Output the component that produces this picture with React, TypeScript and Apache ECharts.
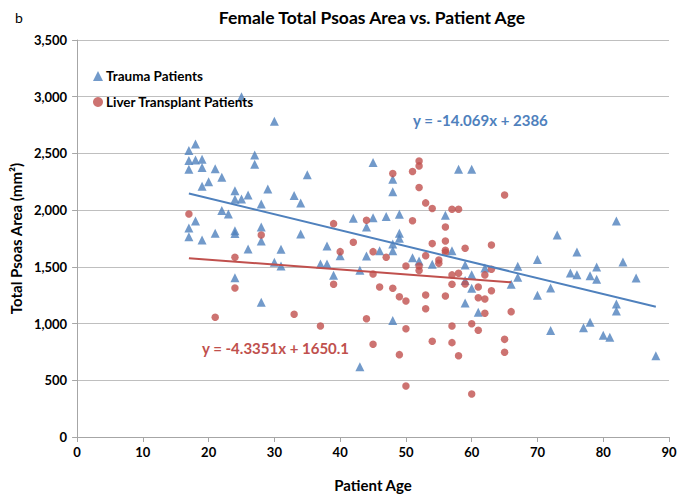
import React, { useEffect, useRef } from "react";
import * as echarts from "echarts";

const title = "Female Total Psoas Area vs. Patient Age";
const xTicks = [0, 10, 20, 30, 40, 50, 60, 70, 80, 90];
const yTicks = [0, 500, 1000, 1500, 2000, 2500, 3000, 3500];

const traumaPatients: number[][] = [
  [17, 2525], [17, 2437], [17, 2360], [17, 1843], [17, 1766],
  [18, 2584], [18, 2443], [18, 1905],
  [19, 2449], [19, 2375], [19, 2211], [19, 1737],
  [20, 2251], [21, 2366], [21, 1796], [22, 2290], [22, 1996], [23, 1966],
  [24, 2172], [24, 2096], [24, 1819], [24, 1793], [24, 1405],
  [25, 3000], [25, 2099], [26, 2134], [26, 1658], [27, 2487], [27, 2405],
  [28, 2055], [28, 1852], [28, 1728], [28, 1188], [29, 2187],
  [30, 2784], [30, 1540], [31, 1655], [31, 1508], [33, 2128],
  [34, 2064], [34, 1790], [35, 2313], [37, 1526], [38, 1684], [38, 1526],
  [39, 1426], [40, 1599], [42, 1928], [43, 1470], [43, 620],
  [44, 1852], [44, 1596], [45, 2420], [45, 1934], [46, 1643], [47, 1943],
  [48, 2272], [48, 2163], [48, 1702], [48, 1643], [48, 1026],
  [49, 1963], [49, 1796], [49, 1752], [51, 1581], [52, 1552], [54, 1523],
  [56, 1955], [57, 1643], [58, 2360], [59, 1517], [59, 1380], [59, 1182],
  [60, 2360], [60, 1431], [60, 1311], [61, 1100], [62, 1490], [66, 1346],
  [67, 1505], [67, 1408], [70, 1564], [70, 1249], [72, 1314], [72, 938],
  [73, 1780], [75, 1446], [76, 1630], [76, 1431], [77, 964],
  [78, 1422], [78, 1011], [79, 1499], [79, 1390], [80, 897], [81, 879],
  [82, 1905], [82, 1173], [82, 1111], [83, 1543], [85, 1402], [88, 717],
];

const liverPatients: number[][] = [
  [17, 1966], [21, 1055], [24, 1585], [24, 1314], [28, 1781], [33, 1082],
  [37, 979], [39, 1881], [39, 1346], [40, 1634], [42, 1717], [44, 1911],
  [44, 1043], [45, 1634], [45, 1437], [45, 817], [46, 1323], [47, 1585],
  [48, 2322], [48, 1311], [49, 1237], [49, 726], [50, 1508], [50, 1199],
  [50, 955], [50, 450], [51, 2340], [51, 1907], [52, 2434], [52, 2390],
  [52, 2199], [52, 1508], [52, 1467], [53, 2064], [53, 1599], [53, 1252],
  [53, 1131], [54, 2014], [54, 1705], [54, 844], [55, 1561], [55, 1531],
  [56, 1852], [56, 1728], [56, 1646], [56, 1629], [56, 1243], [57, 2008],
  [57, 1429], [57, 1346], [57, 979], [57, 832], [58, 2008], [58, 1443],
  [58, 717], [59, 1664], [59, 1349], [60, 999], [60, 379], [61, 1323],
  [61, 1228], [61, 941], [62, 1429], [62, 1217], [62, 1091], [63, 1693],
  [63, 1479], [63, 1290], [65, 2134], [65, 861], [65, 747], [66, 1105],
];

const traumaFit = { slope: -14.069, intercept: 2386, from: 17, to: 88 };
const liverFit = { slope: -4.3351, intercept: 1650.1, from: 17, to: 66 };

const BLUE = "#4f81bd";
const RED = "#c0504d";
const FONT = "Lato";

function fitLine(f: { slope: number; intercept: number; from: number; to: number }) {
  return [
    [f.from, f.slope * f.from + f.intercept],
    [f.to, f.slope * f.to + f.intercept],
  ];
}

export default function App() {
  const ref = useRef<HTMLDivElement>(null);
  useEffect(() => {
    if (!ref.current) return;
    const chart = echarts.init(ref.current, null, { renderer: "svg" });
    chart.setOption({
      animation: false,
      backgroundColor: "#ffffff",
      textStyle: { fontFamily: FONT },
      grid: { left: 76, right: 12, top: 40, bottom: 61 },
      title: [
        {
          text: title,
          left: 367,
          top: 3,
          textAlign: "center",
          textStyle: { fontFamily: FONT, fontSize: 17.5, fontWeight: "bold", color: "#000" },
        },
        {
          text: "b",
          left: 10,
          top: 5,
          textStyle: { fontFamily: FONT, fontSize: 14, fontWeight: "normal", color: "#000" },
        },
      ],
      legend: {
        orient: "vertical",
        left: 88,
        top: 64,
        itemGap: 12,
        itemWidth: 10,
        itemHeight: 10,
        textStyle: { fontFamily: FONT, fontSize: 13.5, fontWeight: "bold", color: "#000", padding: [0, 0, 0, -2] },
        data: [
          { name: "Trauma Patients", icon: "triangle" },
          { name: "Liver Transplant Patients", icon: "circle" },
        ],
      },
      xAxis: {
        type: "value",
        min: xTicks[0],
        max: xTicks[xTicks.length - 1],
        interval: 10,
        name: "Patient Age",
        nameLocation: "middle",
        nameGap: 40,
        nameTextStyle: { fontFamily: FONT, fontSize: 15, fontWeight: "bold", color: "#000" },
        axisLine: { show: true, lineStyle: { color: "#a6a6a6" } },
        axisTick: { show: true, length: 5, lineStyle: { color: "#a6a6a6" } },
        splitLine: { show: false },
        axisLabel: { fontFamily: FONT, fontSize: 13, fontWeight: "bold", color: "#000", margin: 8 },
      },
      yAxis: {
        type: "value",
        min: yTicks[0],
        max: yTicks[yTicks.length - 1],
        interval: 500,
        name: "Total Psoas Area (mm²)",
        nameLocation: "middle",
        nameGap: 54,
        nameTextStyle: { fontFamily: FONT, fontSize: 15, fontWeight: "bold", color: "#000" },
        axisLine: { show: true, lineStyle: { color: "#a6a6a6" } },
        axisTick: { show: true, length: 5, lineStyle: { color: "#a6a6a6" } },
        splitLine: { show: true, lineStyle: { color: "#bfbfbf", width: 1 } },
        axisLabel: {
          fontFamily: FONT,
          fontSize: 13,
          fontWeight: "bold",
          color: "#000",
          margin: 10,
          formatter: (v: number) => v.toLocaleString("en-US"),
        },
      },
      graphic: [
        {
          type: "text",
          left: 413,
          top: 112,
          style: { text: "y = -14.069x + 2386", fill: BLUE, font: `bold 15px ${FONT}` },
        },
        {
          type: "text",
          left: 202,
          top: 340,
          style: { text: "y = -4.3351x + 1650.1", fill: RED, font: `bold 15px ${FONT}` },
        },
      ],
      series: [
        {
          name: "Trauma Patients",
          type: "scatter",
          symbol: "triangle",
          symbolSize: 9,
          itemStyle: { color: BLUE },
          data: traumaPatients,
          z: 3,
        },
        {
          name: "Liver Transplant Patients",
          type: "scatter",
          symbol: "circle",
          symbolSize: 7.5,
          itemStyle: { color: RED },
          data: liverPatients,
          z: 4,
        },
        {
          name: "traumaFit",
          type: "line",
          data: fitLine(traumaFit),
          symbol: "none",
          lineStyle: { color: BLUE, width: 2 },
          z: 5,
        },
        {
          name: "liverFit",
          type: "line",
          data: fitLine(liverFit),
          symbol: "none",
          lineStyle: { color: RED, width: 2 },
          z: 5,
        },
      ],
    });
    return () => chart.dispose();
  }, []);
  return (
    <div
      ref={ref}
      style={{ position: "fixed", left: 0, top: 0, width: 681, height: 498 }}
    />
  );
}
